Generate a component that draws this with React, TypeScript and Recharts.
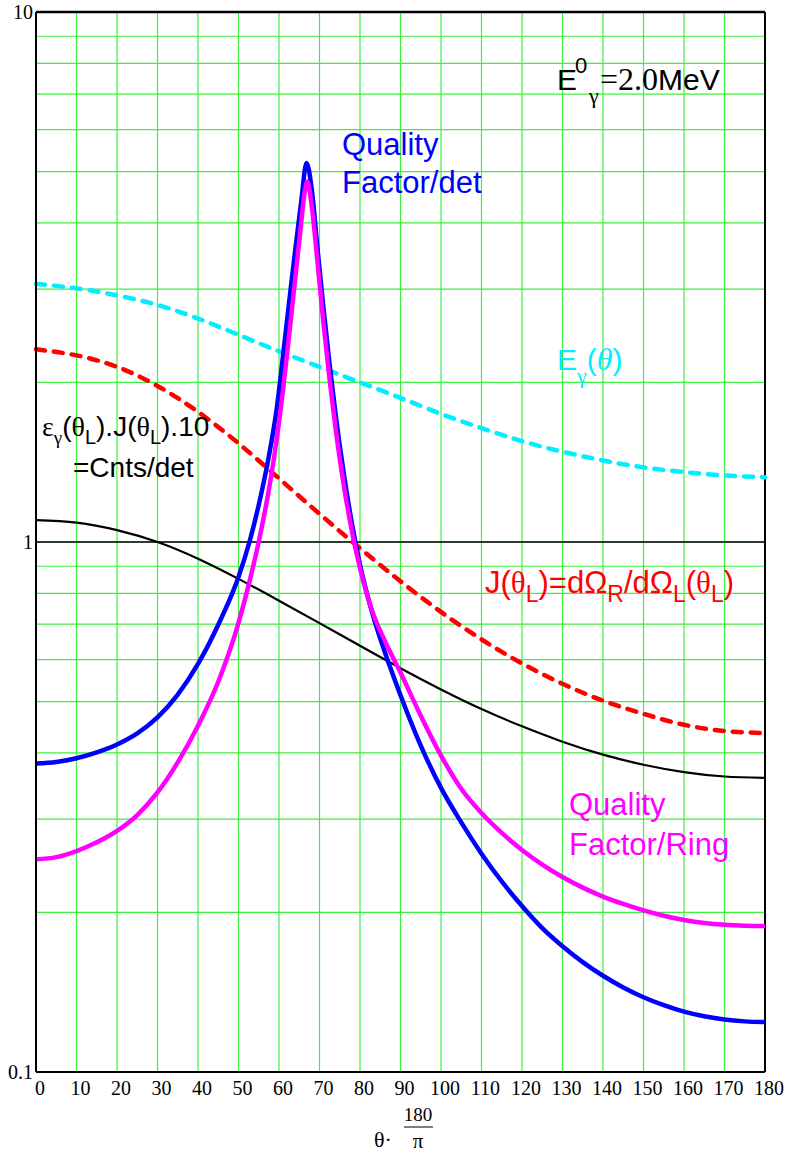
import React from "react";
import { CartesianGrid, Line, LineChart, ReferenceLine, XAxis, YAxis } from "recharts";

// scattering angle (deg) vs log-scale quantities
const xTicks = [0, 10, 20, 30, 40, 50, 60, 70, 80, 90, 100, 110, 120, 130, 140, 150, 160, 170, 180];
const yTicks = [0.1, 0.2, 0.3, 0.4, 0.5, 0.6, 0.7, 0.8, 0.9, 1, 2, 3, 4, 5, 6, 7, 8, 9, 10];
const decadeLabels = [0.1, 1, 10];

// smooth curves share one angle grid
const coarseTheta = [0, 10, 20, 30, 40, 50, 60, 70, 80, 90, 100, 110, 120, 130, 140, 150, 160, 170, 180];
const eGamma = [3.07, 3.01, 2.92, 2.8, 2.64, 2.46, 2.29, 2.14, 2.0, 1.87, 1.745, 1.64, 1.55, 1.48, 1.425, 1.383, 1.355, 1.335, 1.325];
const jacobian = [2.31, 2.25, 2.14, 1.97, 1.76, 1.535, 1.318, 1.13, 0.973, 0.843, 0.738, 0.655, 0.59, 0.54, 0.502, 0.474, 0.452, 0.44, 0.436];
const cntsPerDet = [1.1, 1.088, 1.053, 1.0, 0.93, 0.852, 0.775, 0.703, 0.637, 0.578, 0.527, 0.484, 0.449, 0.42, 0.397, 0.38, 0.368, 0.361, 0.359];

// quality factors: finer steps around the peak
const qfDetTheta = [
  0, 5, 10, 15, 20, 25, 30, 35, 40, 45, 50, 52.7, 55, 57.5, 59.5, 61, 62.5, 64, 65.5, 66.8,
  68.1, 69.5, 71, 72.5, 74, 76, 78, 80, 83, 86, 90, 95, 100, 105, 110, 115, 120, 125, 130, 135, 140, 145, 150, 155, 160, 165, 170, 175, 180,
];
const qfDet = [
  0.382, 0.3846, 0.3908, 0.4009, 0.415, 0.4355, 0.4667, 0.5152, 0.5888, 0.6982, 0.859, 1.0, 1.175, 1.452, 1.799, 2.249, 2.836, 3.55, 4.4, 5.19,
  4.62, 3.58, 2.754, 2.163, 1.734, 1.346, 1.084, 0.906, 0.736, 0.624, 0.514, 0.413, 0.3436, 0.2958, 0.2582, 0.2288, 0.2056, 0.1868, 0.1727,
  0.1612, 0.1519, 0.1444, 0.1384, 0.1337, 0.13, 0.1274, 0.1256, 0.1246, 0.1242,
];

const qfRingTheta = [
  0, 5, 10, 15, 20, 25, 30, 35, 40, 45, 50, 52.8, 55.1, 57.8, 59.4, 61.1, 62.3, 63.7, 65.2, 66.4, 67,
  68.1, 69.5, 71, 72.5, 74, 76, 78, 80, 83, 86, 90, 95, 100, 105, 110, 115, 120, 125, 130, 135, 140, 145, 150, 155, 160, 165, 170, 175, 180,
];
const qfRing = [
  0.252, 0.2543, 0.2611, 0.2712, 0.285, 0.3054, 0.3368, 0.384, 0.4502, 0.545, 0.704, 0.8474, 1.01, 1.294, 1.556, 1.968, 2.375, 2.985, 3.815, 4.6, 4.786,
  4.29, 3.37, 2.574, 2.021, 1.631, 1.278, 1.048, 0.892, 0.741, 0.654, 0.567, 0.47, 0.3954, 0.3423, 0.308, 0.2825, 0.2624, 0.2463, 0.2333,
  0.2228, 0.2143, 0.2075, 0.2018, 0.1972, 0.1936, 0.191, 0.1895, 0.1888, 0.1886,
];

const toPoints = (t: number[], v: number[]) => t.map((x, i) => ({ t: x, v: v[i] }));

const sans = "'Liberation Sans', Arial, sans-serif";
const serif = "'Liberation Serif', 'Times New Roman', serif";

function Annotations() {
  return (
    <svg width={789} height={1165} style={{ position: "absolute", left: 0, top: 0, pointerEvents: "none" }}>
      {/* E0γ = 2.0 MeV */}
      <text y={90} style={{ fontFamily: sans }} fontSize={30} fill="#000">
        <tspan x={557}>E</tspan>
        <tspan x={575} y={73} fontSize={22}>0</tspan>
        <tspan x={589} y={103} style={{ fontFamily: serif }} fontSize={22}>γ</tspan>
        <tspan x={600} y={90} style={{ fontFamily: serif }} fontSize={32}>=2.0</tspan>
        <tspan>MeV</tspan>
      </text>

      <text style={{ fontFamily: sans }} fontSize={31} fill="#0000ff">
        <tspan x={342} y={155}>Quality</tspan>
        <tspan x={342} y={193}>Factor/det</tspan>
      </text>

      <text y={370} style={{ fontFamily: sans }} fontSize={30} fill="#00eeff">
        <tspan x={557}>E</tspan>
        <tspan y={383} style={{ fontFamily: serif }} fontSize={22}>γ</tspan>
        <tspan y={370}>(</tspan>
        <tspan style={{ fontFamily: serif }} fontStyle="italic" fontSize={32}>θ</tspan>
        <tspan>)</tspan>
      </text>

      <text y={436} style={{ fontFamily: sans }} fontSize={28} fill="#000">
        <tspan x={42} style={{ fontFamily: serif }}>ε</tspan>
        <tspan y={444} style={{ fontFamily: serif }} fontSize={19}>γ</tspan>
        <tspan y={436}>(</tspan>
        <tspan style={{ fontFamily: serif }}>θ</tspan>
        <tspan y={444} fontSize={20}>L</tspan>
        <tspan y={436}>).J(</tspan>
        <tspan style={{ fontFamily: serif }}>θ</tspan>
        <tspan y={444} fontSize={20}>L</tspan>
        <tspan y={436}>).10</tspan>
      </text>
      <text x={73} y={477} style={{ fontFamily: sans }} fontSize={28} fill="#000">=Cnts/det</text>

      <text y={593} style={{ fontFamily: sans }} fontSize={31} fill="#ff0000">
        <tspan x={485}>J(</tspan>
        <tspan style={{ fontFamily: serif }}>θ</tspan>
        <tspan y={602} fontSize={23}>L</tspan>
        <tspan y={593}>)=dΩ</tspan>
        <tspan y={602} fontSize={23}>R</tspan>
        <tspan y={593}>/dΩ</tspan>
        <tspan y={602} fontSize={23}>L</tspan>
        <tspan y={593}>(</tspan>
        <tspan style={{ fontFamily: serif }}>θ</tspan>
        <tspan y={602} fontSize={23}>L</tspan>
        <tspan y={593}>)</tspan>
      </text>

      <text style={{ fontFamily: sans }} fontSize={31} fill="#ff00ff">
        <tspan x={569} y={815}>Quality</tspan>
        <tspan x={569} y={855}>Factor/Ring</tspan>
      </text>

      {/* x axis title: θ·180/π */}
      <text x={374} y={1147} style={{ fontFamily: serif }} fontSize={22} fill="#000">θ·</text>
      <text x={418} y={1121} style={{ fontFamily: serif }} fontSize={19} fill="#000" textAnchor="middle">180</text>
      <line x1={404} x2={433} y1={1127} y2={1127} stroke="#000" strokeWidth={1} />
      <text x={418} y={1148} style={{ fontFamily: serif }} fontSize={21} fill="#000" textAnchor="middle">π</text>
    </svg>
  );
}

export default function App() {
  const tick = { fill: "#000", fontSize: 20, style: { fontFamily: serif } };
  return (
    <div style={{ position: "absolute", left: 0, top: 0, width: 789, height: 1165, background: "#fff" }}>
      <LineChart width={789} height={1165} margin={{ top: 12, right: 24, bottom: 63, left: 0 }}>
        <CartesianGrid stroke="#3ef03e" strokeWidth={1.2} />
        <XAxis
          type="number"
          dataKey="t"
          domain={[0, 180]}
          ticks={xTicks}
          interval={0}
          height={30}
          tickSize={0}
          tickMargin={9}
          tick={{ ...tick, dx: 4 }}
          axisLine={{ stroke: "#000", strokeWidth: 2 }}
          allowDuplicatedCategory={false}
        />
        <YAxis
          type="number"
          scale="log"
          domain={[0.1, 10]}
          ticks={yTicks}
          interval={0}
          width={36}
          tickSize={0}
          tickMargin={3}
          tick={tick}
          tickFormatter={(v: number) => (decadeLabels.some((d) => Math.abs(d - v) < 1e-9) ? String(v) : "")}
          axisLine={{ stroke: "#000", strokeWidth: 2 }}
          allowDataOverflow
        />
        <ReferenceLine y={10} stroke="#000" strokeWidth={2.5} />
        <ReferenceLine x={180} stroke="#000" strokeWidth={2} />
        <ReferenceLine y={1} stroke="#000" strokeWidth={1.5} />

        <Line data={toPoints(coarseTheta, eGamma)} dataKey="v" type="natural" stroke="#00eeff" strokeWidth={4.5}
          strokeDasharray="9 9" strokeLinecap="round" dot={false} isAnimationActive={false} />
        <Line data={toPoints(coarseTheta, jacobian)} dataKey="v" type="natural" stroke="#ff0000" strokeWidth={4.5}
          strokeDasharray="9 9" strokeLinecap="round" dot={false} isAnimationActive={false} />
        <Line data={toPoints(coarseTheta, cntsPerDet)} dataKey="v" type="natural" stroke="#000" strokeWidth={2.2}
          dot={false} isAnimationActive={false} />
        <Line data={toPoints(qfDetTheta, qfDet)} dataKey="v" type="monotone" stroke="#0000ff" strokeWidth={4.5}
          dot={false} isAnimationActive={false} />
        <Line data={toPoints(qfRingTheta, qfRing)} dataKey="v" type="monotone" stroke="#ff00ff" strokeWidth={4.5}
          dot={false} isAnimationActive={false} />
      </LineChart>
      <Annotations />
    </div>
  );
}
